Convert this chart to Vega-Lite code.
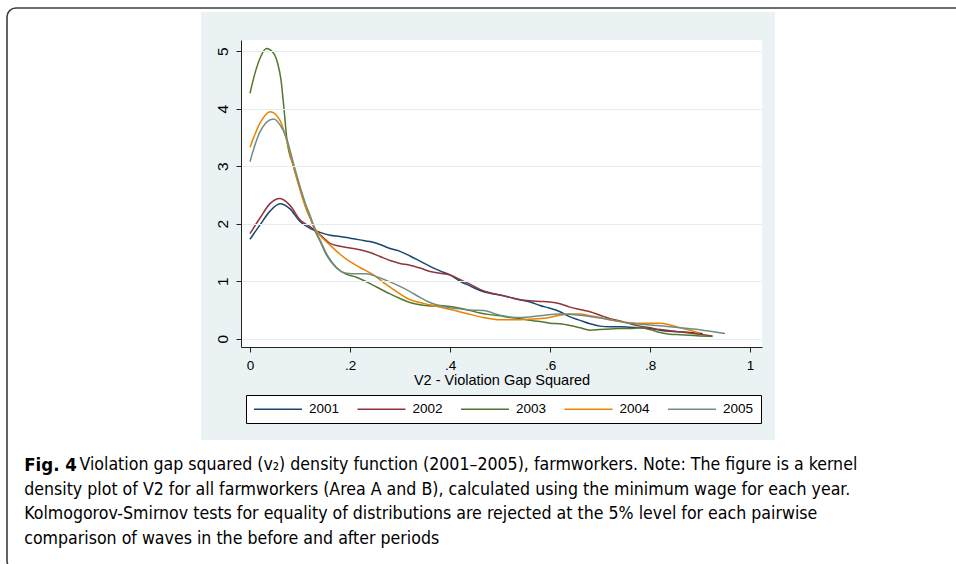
{
  "$schema": "https://vega.github.io/schema/vega-lite/v6.json",
  "width": 521,
  "height": 307,
  "autosize": "none",
  "padding": {"left": 241, "top": 40, "right": 194, "bottom": 217},
  "background": "#ffffff",
  "config": {
    "view": {"stroke": null},
    "axis": {
      "tickSize": 5,
      "domainColor": "#222222",
      "tickColor": "#222222",
      "labelFont": "Liberation Sans",
      "labelFontSize": 13.5,
      "labelColor": "#000000",
      "titleFont": "Liberation Sans",
      "titleFontSize": 14.5,
      "titleFontWeight": "normal",
      "titleColor": "#000000"
    }
  },
  "title": {
    "text": "Fig. 4",
    "subtitle": [
      "\u200b\u00a0\u00a0\u00a0\u00a0\u00a0\u00a0\u00a0\u00a0\u00a0\u00a0\u00a0Violation gap squared (v\u2082) density function (2001\u20132005), farmworkers. Note: The figure is a kernel",
      "density plot of V2 for all farmworkers (Area A and B), calculated using the minimum wage for each year.",
      "Kolmogorov-Smirnov tests for equality of distributions are rejected at the 5% level for each pairwise",
      "comparison of waves in the before and after periods"
    ],
    "orient": "bottom",
    "anchor": "start",
    "frame": "bounds",
    "offset": -115,
    "dx": 18,
    "baseline": "top",
    "font": "Liberation Sans Narrow, DejaVu Sans Condensed, Liberation Sans",
    "fontSize": 18.5,
    "fontWeight": "bold",
    "color": "#000000",
    "subtitleFont": "Liberation Sans Narrow, DejaVu Sans Condensed, Liberation Sans",
    "subtitleFontSize": 17.6,
    "subtitleColor": "#000000",
    "subtitlePadding": -18,
    "subtitleLineHeight": 24.5
  },
  "datasets": {
    "dens": [
      {"year": "2001", "v": 0, "d": 1.73}, {"year": "2001", "v": 0.02, "d": 1.98}, {"year": "2001", "v": 0.04, "d": 2.22}, {"year": "2001", "v": 0.06, "d": 2.35}, {"year": "2001", "v": 0.08, "d": 2.26}, {"year": "2001", "v": 0.1, "d": 2.04}, {"year": "2001", "v": 0.12, "d": 1.92}, {"year": "2001", "v": 0.14, "d": 1.85}, {"year": "2001", "v": 0.16, "d": 1.8}, {"year": "2001", "v": 0.18, "d": 1.78}, {"year": "2001", "v": 0.2, "d": 1.75}, {"year": "2001", "v": 0.22, "d": 1.72}, {"year": "2001", "v": 0.24, "d": 1.69}, {"year": "2001", "v": 0.26, "d": 1.64}, {"year": "2001", "v": 0.28, "d": 1.57}, {"year": "2001", "v": 0.3, "d": 1.52}, {"year": "2001", "v": 0.32, "d": 1.44}, {"year": "2001", "v": 0.34, "d": 1.35}, {"year": "2001", "v": 0.36, "d": 1.26}, {"year": "2001", "v": 0.38, "d": 1.18}, {"year": "2001", "v": 0.4, "d": 1.11}, {"year": "2001", "v": 0.42, "d": 1.0}, {"year": "2001", "v": 0.44, "d": 0.92}, {"year": "2001", "v": 0.46, "d": 0.84}, {"year": "2001", "v": 0.48, "d": 0.79}, {"year": "2001", "v": 0.5, "d": 0.76}, {"year": "2001", "v": 0.52, "d": 0.72}, {"year": "2001", "v": 0.54, "d": 0.68}, {"year": "2001", "v": 0.56, "d": 0.64}, {"year": "2001", "v": 0.58, "d": 0.58}, {"year": "2001", "v": 0.6, "d": 0.53}, {"year": "2001", "v": 0.62, "d": 0.47}, {"year": "2001", "v": 0.64, "d": 0.38}, {"year": "2001", "v": 0.66, "d": 0.32}, {"year": "2001", "v": 0.68, "d": 0.26}, {"year": "2001", "v": 0.7, "d": 0.22}, {"year": "2001", "v": 0.72, "d": 0.21}, {"year": "2001", "v": 0.74, "d": 0.21}, {"year": "2001", "v": 0.76, "d": 0.2}, {"year": "2001", "v": 0.78, "d": 0.19}, {"year": "2001", "v": 0.8, "d": 0.18}, {"year": "2001", "v": 0.82, "d": 0.15}, {"year": "2001", "v": 0.84, "d": 0.13}, {"year": "2001", "v": 0.86, "d": 0.12}, {"year": "2001", "v": 0.88, "d": 0.11}, {"year": "2001", "v": 0.905, "d": 0.09},
      {"year": "2002", "v": 0, "d": 1.83}, {"year": "2002", "v": 0.02, "d": 2.1}, {"year": "2002", "v": 0.04, "d": 2.35}, {"year": "2002", "v": 0.06, "d": 2.44}, {"year": "2002", "v": 0.08, "d": 2.32}, {"year": "2002", "v": 0.1, "d": 2.07}, {"year": "2002", "v": 0.12, "d": 1.95}, {"year": "2002", "v": 0.14, "d": 1.81}, {"year": "2002", "v": 0.16, "d": 1.66}, {"year": "2002", "v": 0.18, "d": 1.61}, {"year": "2002", "v": 0.2, "d": 1.58}, {"year": "2002", "v": 0.22, "d": 1.55}, {"year": "2002", "v": 0.24, "d": 1.5}, {"year": "2002", "v": 0.26, "d": 1.43}, {"year": "2002", "v": 0.28, "d": 1.36}, {"year": "2002", "v": 0.3, "d": 1.31}, {"year": "2002", "v": 0.32, "d": 1.28}, {"year": "2002", "v": 0.34, "d": 1.23}, {"year": "2002", "v": 0.36, "d": 1.17}, {"year": "2002", "v": 0.38, "d": 1.14}, {"year": "2002", "v": 0.4, "d": 1.11}, {"year": "2002", "v": 0.42, "d": 1.03}, {"year": "2002", "v": 0.44, "d": 0.95}, {"year": "2002", "v": 0.46, "d": 0.86}, {"year": "2002", "v": 0.48, "d": 0.8}, {"year": "2002", "v": 0.5, "d": 0.76}, {"year": "2002", "v": 0.52, "d": 0.72}, {"year": "2002", "v": 0.54, "d": 0.68}, {"year": "2002", "v": 0.56, "d": 0.66}, {"year": "2002", "v": 0.58, "d": 0.65}, {"year": "2002", "v": 0.6, "d": 0.64}, {"year": "2002", "v": 0.62, "d": 0.61}, {"year": "2002", "v": 0.64, "d": 0.55}, {"year": "2002", "v": 0.66, "d": 0.51}, {"year": "2002", "v": 0.68, "d": 0.47}, {"year": "2002", "v": 0.7, "d": 0.41}, {"year": "2002", "v": 0.72, "d": 0.35}, {"year": "2002", "v": 0.74, "d": 0.31}, {"year": "2002", "v": 0.76, "d": 0.26}, {"year": "2002", "v": 0.78, "d": 0.22}, {"year": "2002", "v": 0.8, "d": 0.19}, {"year": "2002", "v": 0.82, "d": 0.16}, {"year": "2002", "v": 0.84, "d": 0.14}, {"year": "2002", "v": 0.86, "d": 0.12}, {"year": "2002", "v": 0.88, "d": 0.1}, {"year": "2002", "v": 0.9, "d": 0.08}, {"year": "2002", "v": 0.925, "d": 0.05},
      {"year": "2003", "v": 0, "d": 4.27}, {"year": "2003", "v": 0.01, "d": 4.62}, {"year": "2003", "v": 0.02, "d": 4.88}, {"year": "2003", "v": 0.033, "d": 5.05}, {"year": "2003", "v": 0.045, "d": 4.99}, {"year": "2003", "v": 0.055, "d": 4.8}, {"year": "2003", "v": 0.062, "d": 4.5}, {"year": "2003", "v": 0.068, "d": 4.0}, {"year": "2003", "v": 0.074, "d": 3.45}, {"year": "2003", "v": 0.087, "d": 3.0}, {"year": "2003", "v": 0.1, "d": 2.62}, {"year": "2003", "v": 0.113, "d": 2.27}, {"year": "2003", "v": 0.12, "d": 2.12}, {"year": "2003", "v": 0.13, "d": 1.88}, {"year": "2003", "v": 0.14, "d": 1.7}, {"year": "2003", "v": 0.153, "d": 1.46}, {"year": "2003", "v": 0.173, "d": 1.23}, {"year": "2003", "v": 0.193, "d": 1.12}, {"year": "2003", "v": 0.213, "d": 1.07}, {"year": "2003", "v": 0.233, "d": 0.99}, {"year": "2003", "v": 0.253, "d": 0.9}, {"year": "2003", "v": 0.28, "d": 0.78}, {"year": "2003", "v": 0.3, "d": 0.7}, {"year": "2003", "v": 0.32, "d": 0.63}, {"year": "2003", "v": 0.34, "d": 0.59}, {"year": "2003", "v": 0.36, "d": 0.57}, {"year": "2003", "v": 0.38, "d": 0.58}, {"year": "2003", "v": 0.4, "d": 0.56}, {"year": "2003", "v": 0.42, "d": 0.53}, {"year": "2003", "v": 0.44, "d": 0.49}, {"year": "2003", "v": 0.46, "d": 0.45}, {"year": "2003", "v": 0.48, "d": 0.42}, {"year": "2003", "v": 0.5, "d": 0.4}, {"year": "2003", "v": 0.52, "d": 0.37}, {"year": "2003", "v": 0.54, "d": 0.35}, {"year": "2003", "v": 0.56, "d": 0.32}, {"year": "2003", "v": 0.58, "d": 0.3}, {"year": "2003", "v": 0.6, "d": 0.27}, {"year": "2003", "v": 0.62, "d": 0.26}, {"year": "2003", "v": 0.64, "d": 0.23}, {"year": "2003", "v": 0.66, "d": 0.19}, {"year": "2003", "v": 0.68, "d": 0.15}, {"year": "2003", "v": 0.7, "d": 0.16}, {"year": "2003", "v": 0.72, "d": 0.17}, {"year": "2003", "v": 0.74, "d": 0.18}, {"year": "2003", "v": 0.76, "d": 0.18}, {"year": "2003", "v": 0.78, "d": 0.19}, {"year": "2003", "v": 0.8, "d": 0.16}, {"year": "2003", "v": 0.82, "d": 0.11}, {"year": "2003", "v": 0.84, "d": 0.08}, {"year": "2003", "v": 0.86, "d": 0.07}, {"year": "2003", "v": 0.88, "d": 0.06}, {"year": "2003", "v": 0.9, "d": 0.05}, {"year": "2003", "v": 0.925, "d": 0.04},
      {"year": "2004", "v": 0, "d": 3.33}, {"year": "2004", "v": 0.02, "d": 3.75}, {"year": "2004", "v": 0.04, "d": 3.95}, {"year": "2004", "v": 0.06, "d": 3.8}, {"year": "2004", "v": 0.073, "d": 3.46}, {"year": "2004", "v": 0.087, "d": 2.99}, {"year": "2004", "v": 0.1, "d": 2.59}, {"year": "2004", "v": 0.113, "d": 2.24}, {"year": "2004", "v": 0.12, "d": 2.1}, {"year": "2004", "v": 0.13, "d": 1.92}, {"year": "2004", "v": 0.14, "d": 1.8}, {"year": "2004", "v": 0.16, "d": 1.63}, {"year": "2004", "v": 0.18, "d": 1.47}, {"year": "2004", "v": 0.2, "d": 1.34}, {"year": "2004", "v": 0.22, "d": 1.24}, {"year": "2004", "v": 0.247, "d": 1.11}, {"year": "2004", "v": 0.273, "d": 0.94}, {"year": "2004", "v": 0.3, "d": 0.78}, {"year": "2004", "v": 0.32, "d": 0.68}, {"year": "2004", "v": 0.34, "d": 0.63}, {"year": "2004", "v": 0.36, "d": 0.59}, {"year": "2004", "v": 0.39, "d": 0.53}, {"year": "2004", "v": 0.41, "d": 0.49}, {"year": "2004", "v": 0.433, "d": 0.44}, {"year": "2004", "v": 0.467, "d": 0.37}, {"year": "2004", "v": 0.5, "d": 0.33}, {"year": "2004", "v": 0.527, "d": 0.33}, {"year": "2004", "v": 0.56, "d": 0.34}, {"year": "2004", "v": 0.593, "d": 0.36}, {"year": "2004", "v": 0.62, "d": 0.41}, {"year": "2004", "v": 0.64, "d": 0.43}, {"year": "2004", "v": 0.66, "d": 0.43}, {"year": "2004", "v": 0.68, "d": 0.4}, {"year": "2004", "v": 0.7, "d": 0.37}, {"year": "2004", "v": 0.72, "d": 0.33}, {"year": "2004", "v": 0.74, "d": 0.3}, {"year": "2004", "v": 0.76, "d": 0.28}, {"year": "2004", "v": 0.78, "d": 0.27}, {"year": "2004", "v": 0.8, "d": 0.27}, {"year": "2004", "v": 0.82, "d": 0.27}, {"year": "2004", "v": 0.84, "d": 0.24}, {"year": "2004", "v": 0.86, "d": 0.19}, {"year": "2004", "v": 0.88, "d": 0.15}, {"year": "2004", "v": 0.9, "d": 0.1},
      {"year": "2005", "v": 0, "d": 3.08}, {"year": "2005", "v": 0.02, "d": 3.6}, {"year": "2005", "v": 0.047, "d": 3.82}, {"year": "2005", "v": 0.06, "d": 3.72}, {"year": "2005", "v": 0.073, "d": 3.49}, {"year": "2005", "v": 0.087, "d": 3.05}, {"year": "2005", "v": 0.1, "d": 2.65}, {"year": "2005", "v": 0.113, "d": 2.3}, {"year": "2005", "v": 0.12, "d": 2.15}, {"year": "2005", "v": 0.13, "d": 1.9}, {"year": "2005", "v": 0.14, "d": 1.72}, {"year": "2005", "v": 0.153, "d": 1.48}, {"year": "2005", "v": 0.173, "d": 1.24}, {"year": "2005", "v": 0.193, "d": 1.14}, {"year": "2005", "v": 0.213, "d": 1.13}, {"year": "2005", "v": 0.233, "d": 1.13}, {"year": "2005", "v": 0.253, "d": 1.08}, {"year": "2005", "v": 0.28, "d": 0.99}, {"year": "2005", "v": 0.3, "d": 0.91}, {"year": "2005", "v": 0.32, "d": 0.82}, {"year": "2005", "v": 0.34, "d": 0.72}, {"year": "2005", "v": 0.36, "d": 0.63}, {"year": "2005", "v": 0.393, "d": 0.55}, {"year": "2005", "v": 0.42, "d": 0.52}, {"year": "2005", "v": 0.44, "d": 0.5}, {"year": "2005", "v": 0.467, "d": 0.49}, {"year": "2005", "v": 0.5, "d": 0.41}, {"year": "2005", "v": 0.52, "d": 0.38}, {"year": "2005", "v": 0.54, "d": 0.37}, {"year": "2005", "v": 0.58, "d": 0.4}, {"year": "2005", "v": 0.62, "d": 0.43}, {"year": "2005", "v": 0.66, "d": 0.41}, {"year": "2005", "v": 0.7, "d": 0.36}, {"year": "2005", "v": 0.753, "d": 0.28}, {"year": "2005", "v": 0.8, "d": 0.24}, {"year": "2005", "v": 0.84, "d": 0.21}, {"year": "2005", "v": 0.887, "d": 0.17}, {"year": "2005", "v": 0.92, "d": 0.13}, {"year": "2005", "v": 0.95, "d": 0.09}
    ]
  },
  "layer": [
    {
      "data": {"values": [{}]},
      "mark": {"type": "rect", "fill": "#ffffff", "fillOpacity": 0, "stroke": "#3c3c3c", "strokeWidth": 1.6, "cornerRadius": 9},
      "encoding": {
        "x": {"datum": -0.486, "type": "quantitative", "title": "V2 - Violation Gap Squared", "scale": {"domain": [-0.018, 1.024], "nice": false, "zero": false},
          "axis": {"values": [0, 0.2, 0.4, 0.6, 0.8, 1], "labelExpr": "datum.value == 0 ? '0' : datum.value == 1 ? '1' : '.' + round(datum.value * 10)", "grid": false, "labelPadding": 6, "titlePadding": 2, "zindex": 1}},
        "x2": {"datum": 1.44},
        "y": {"datum": 5.753, "type": "quantitative", "title": null, "scale": {"domain": [-0.143, 5.196], "nice": false, "zero": false},
          "axis": {"values": [0, 1, 2, 3, 4, 5], "grid": true, "gridColor": "#e4eef0", "gridWidth": 1, "labelAngle": 270, "labelAlign": "center", "labelBaseline": "bottom", "labelPadding": 6, "labelFontSize": 15.5, "zindex": 1}},
        "y2": {"datum": -4.02}
      }
    },
    {
      "data": {"values": [{}]},
      "mark": {"type": "rect", "fill": "#eaf2f3", "strokeWidth": 0},
      "encoding": {
        "x": {"datum": -0.098, "type": "quantitative", "title": "V2 - Violation Gap Squared", "scale": {"domain": [-0.018, 1.024], "nice": false, "zero": false},
          "axis": {"values": [0, 0.2, 0.4, 0.6, 0.8, 1], "labelExpr": "datum.value == 0 ? '0' : datum.value == 1 ? '1' : '.' + round(datum.value * 10)", "grid": false, "labelPadding": 6, "titlePadding": 2, "zindex": 1}},
        "x2": {"datum": 1.05},
        "y": {"datum": 5.683, "type": "quantitative", "title": null, "scale": {"domain": [-0.143, 5.196], "nice": false, "zero": false},
          "axis": {"values": [0, 1, 2, 3, 4, 5], "grid": true, "gridColor": "#e4eef0", "gridWidth": 1, "labelAngle": 270, "labelAlign": "center", "labelBaseline": "bottom", "labelPadding": 6, "labelFontSize": 15.5, "zindex": 1}},
        "y2": {"datum": -1.76}
      }
    },
    {
      "data": {"values": [{}]},
      "mark": {"type": "rect", "fill": "#ffffff", "strokeWidth": 0},
      "encoding": {
        "x": {"datum": -0.018, "type": "quantitative", "title": "V2 - Violation Gap Squared", "scale": {"domain": [-0.018, 1.024], "nice": false, "zero": false},
          "axis": {"values": [0, 0.2, 0.4, 0.6, 0.8, 1], "labelExpr": "datum.value == 0 ? '0' : datum.value == 1 ? '1' : '.' + round(datum.value * 10)", "grid": false, "labelPadding": 6, "titlePadding": 2, "zindex": 1}},
        "x2": {"datum": 1.024},
        "y": {"datum": 5.196, "type": "quantitative", "title": null, "scale": {"domain": [-0.143, 5.196], "nice": false, "zero": false},
          "axis": {"values": [0, 1, 2, 3, 4, 5], "grid": true, "gridColor": "#e4eef0", "gridWidth": 1, "labelAngle": 270, "labelAlign": "center", "labelBaseline": "bottom", "labelPadding": 6, "labelFontSize": 15.5, "zindex": 1}},
        "y2": {"datum": -0.143}
      }
    },
    {
      "data": {"name": "dens"},
      "mark": {"type": "line", "strokeWidth": 1.5, "interpolate": "monotone"},
      "encoding": {
        "x": {
          "field": "v", "type": "quantitative", "title": "V2 - Violation Gap Squared",
          "scale": {"domain": [-0.018, 1.024], "nice": false, "zero": false},
          "axis": {"values": [0, 0.2, 0.4, 0.6, 0.8, 1], "labelExpr": "datum.value == 0 ? '0' : datum.value == 1 ? '1' : '.' + round(datum.value * 10)", "grid": false, "labelPadding": 6, "titlePadding": 2, "zindex": 1}
        },
        "y": {
          "field": "d", "type": "quantitative", "title": null,
          "scale": {"domain": [-0.143, 5.196], "nice": false, "zero": false},
          "axis": {"values": [0, 1, 2, 3, 4, 5], "grid": true, "gridColor": "#e4eef0", "gridWidth": 1, "labelAngle": 270, "labelAlign": "center", "labelBaseline": "bottom", "labelPadding": 6, "labelFontSize": 15.5, "zindex": 1}
        },
        "color": {
          "field": "year", "type": "nominal",
          "scale": {"domain": ["2001", "2002", "2003", "2004", "2005"], "range": ["#1a476f", "#90353b", "#55752f", "#e98300", "#6e8e84"]},
          "legend": {
            "orient": "none",
            "legendX": 5,
            "legendY": 355,
            "direction": "horizontal",
            "title": null,
            "symbolType": "M-1,0H7",
            "symbolSize": 144,
            "symbolStrokeWidth": 1.5,
            "symbolFillColor": "transparent",
            "labelFont": "Liberation Sans",
            "labelFontSize": 13.5,
            "labelColor": "#000000",
            "labelOffset": 42,
            "columnPadding": 14.5,
            "padding": 7,
            "strokeColor": "#000000",
            "fillColor": "#ffffff"
          }
        }
      }
    }
  ]
}
